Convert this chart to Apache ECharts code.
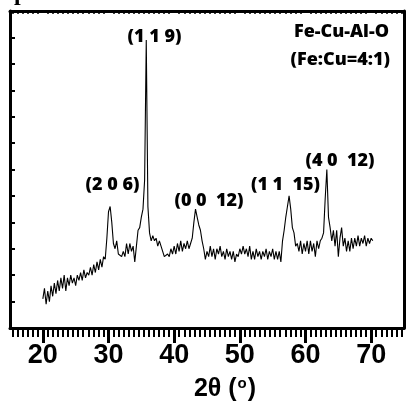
<!DOCTYPE html>
<html>
<head>
<meta charset="utf-8">
<script src="https://cdn.jsdelivr.net/npm/echarts@6/dist/echarts.min.js"></script>
<style>
html,body{margin:0;padding:0;background:#fff;}
#chart{width:406px;height:402px;}
</style>
</head>
<body>
<div id="chart"></div>
<script>
// ---- data ----
var twoTheta = [
20.00,20.25,20.50,20.75,21.00,21.25,21.50,21.75,22.00,22.25,22.50,22.75,
23.00,23.25,23.50,23.75,24.00,24.25,24.50,24.75,25.00,25.25,25.50,25.75,
26.00,26.25,26.50,26.75,27.00,27.25,27.50,27.75,28.00,28.25,28.50,28.75,
29.00,29.25,29.50,29.75,30.00,30.25,30.50,30.75,31.00,31.25,31.50,31.75,
32.00,32.25,32.50,32.75,33.00,33.25,33.50,33.75,34.00,34.25,34.50,34.75,
35.00,35.25,35.50,35.75,36.00,36.25,36.50,36.75,37.00,37.25,37.50,37.75,
38.00,38.25,38.50,38.75,39.00,39.25,39.50,39.75,40.00,40.25,40.50,40.75,
41.00,41.25,41.50,41.75,42.00,42.25,42.50,42.75,43.00,43.25,43.50,43.75,
44.00,44.25,44.50,44.75,45.00,45.25,45.50,45.75,46.00,46.25,46.50,46.75,
47.00,47.25,47.50,47.75,48.00,48.25,48.50,48.75,49.00,49.25,49.50,49.75,
50.00,50.25,50.50,50.75,51.00,51.25,51.50,51.75,52.00,52.25,52.50,52.75,
53.00,53.25,53.50,53.75,54.00,54.25,54.50,54.75,55.00,55.25,55.50,55.75,
56.00,56.25,56.50,56.75,57.00,57.25,57.50,57.75,58.00,58.25,58.50,58.75,
59.00,59.25,59.50,59.75,60.00,60.25,60.50,60.75,61.00,61.25,61.50,61.75,
62.00,62.25,62.50,62.75,63.00,63.25,63.50,63.75,64.00,64.25,64.50,64.75,
65.00,65.25,65.50,65.75,66.00,66.25,66.50,66.75,67.00,67.25,67.50,67.75,
68.00,68.25,68.50,68.75,69.00,69.25,69.50,69.75,70.00,70.25
];
var intensity = [
1.1,1.5,0.9,1.4,1.0,1.6,1.2,1.7,1.3,1.8,1.4,1.9,
1.5,2.0,1.4,1.9,1.6,2.0,1.7,1.9,1.6,2.0,1.8,2.1,
1.8,2.2,1.9,2.1,2.0,2.3,2.0,2.4,2.1,2.5,2.2,2.6,
2.3,2.7,2.6,3.4,4.4,4.6,4.0,3.2,3.0,3.3,2.8,2.8,
2.7,2.9,2.7,3.2,2.8,3.2,2.9,3.1,2.5,3.1,3.7,3.8,
4.2,4.5,5.6,10.9,4.6,3.6,3.3,3.5,3.3,3.4,3.1,3.3,
3.1,2.9,2.7,2.7,2.8,2.7,3.0,2.8,3.1,2.8,3.2,2.9,
3.3,2.9,3.2,3.0,3.3,3.0,3.2,3.4,4.0,4.5,4.2,3.9,
3.7,3.3,3.0,2.6,2.9,2.7,3.1,2.7,3.0,2.6,3.0,2.8,
3.1,2.7,2.9,2.6,3.0,2.7,2.9,2.6,2.9,2.5,2.8,2.7,
3.0,2.8,3.1,2.8,3.0,2.7,3.1,2.6,2.9,2.6,3.0,2.7,
2.9,2.6,2.9,2.7,3.0,2.6,2.9,2.7,3.0,2.6,2.9,2.6,
2.9,2.5,3.3,3.7,4.2,4.6,5.0,4.5,3.8,3.6,3.1,3.2,
2.9,3.3,2.8,3.2,2.9,3.3,2.8,3.3,2.9,3.2,2.7,3.3,
3.0,3.3,3.4,3.6,4.9,6.0,4.2,3.8,3.3,3.7,3.1,3.7,
2.7,3.4,3.8,3.1,3.4,2.9,3.3,2.9,3.4,3.0,3.4,3.1,
3.5,3.1,3.4,3.2,3.5,3.1,3.4,3.2,3.4,3.3
];
var majorTicks = [20, 30, 40, 50, 60, 70];
var peakLabels = ['(1 1 9)', '(2 0 6)', '(0 0  12)', '(1 1  15)', '(4 0  12)'];
var sampleLines = ['Fe-Cu-Al-O', '(Fe:Cu=4:1)'];

// ---- build ----
var seriesData = twoTheta.map(function (x, i) { return [x, intensity[i]]; });

// minor tick positions (styling only): 13 sub-divisions per 10 degrees
var minorTicks = [];
for (var d = 10; d <= 70; d += 10) {
  for (var k = 1; k < 13; k++) {
    var v = d + k * 10 / 13;
    if (v > 15 && v < 75) minorTicks.push(v);
  }
}

var chart = echarts.init(document.getElementById('chart'), null, { renderer: 'canvas' });
var black = '#000';
var labelFont = { fontFamily: 'Open Sans', fontWeight: 800, fontSize: 18, fill: black };

function txt(x, y, s, align) {
  return {
    type: 'text', x: x, y: y, z: 10,
    style: Object.assign({ text: s, align: align || 'center', verticalAlign: 'middle' }, labelFont)
  };
}

var option = {
  animation: false,
  backgroundColor: '#fff',
  grid: { left: 10, right: 2, top: 11, bottom: 74, containLabel: false },
  xAxis: [
    {
      type: 'value', min: 15, max: 75, position: 'bottom',
      axisLine: { show: true, onZero: false, lineStyle: { color: black, width: 3 } },
      axisTick: { show: true, customValues: majorTicks, length: 15, lineStyle: { color: black, width: 3 } },
      axisLabel: {
        show: true, customValues: majorTicks, margin: 14,
        fontFamily: 'Liberation Sans Narrow, Liberation Sans, Arial', fontWeight: 'bold', fontSize: 27, color: black
      },
      splitLine: { show: false }
    },
    {
      type: 'value', min: 15, max: 75, position: 'bottom',
      axisLine: { show: false, onZero: false },
      axisTick: { show: true, customValues: minorTicks, length: 9, lineStyle: { color: black, width: 2 } },
      axisLabel: { show: false },
      splitLine: { show: false }
    },
    {
      type: 'value', min: 15, max: 75, position: 'top',
      axisLine: { show: true, onZero: false, lineStyle: { color: black, width: 3 } },
      axisTick: { show: true, inside: true, customValues: minorTicks, length: 3, lineStyle: { color: black, width: 1.5 } },
      axisLabel: { show: false },
      splitLine: { show: false }
    }
  ],
  yAxis: [
    {
      type: 'value', min: 0, max: 12, interval: 1, position: 'left',
      axisLine: { show: true, onZero: false, lineStyle: { color: black, width: 3 } },
      axisTick: { show: true, inside: true, length: 5, lineStyle: { color: black, width: 2 } },
      axisLabel: { show: false },
      splitLine: { show: false }
    },
    {
      type: 'value', min: 0, max: 12, position: 'right',
      axisLine: { show: true, onZero: false, lineStyle: { color: black, width: 3 } },
      axisTick: { show: false },
      axisLabel: { show: false },
      splitLine: { show: false }
    }
  ],
  series: [
    {
      type: 'line', xAxisIndex: 0, yAxisIndex: 0,
      data: seriesData,
      showSymbol: false, symbol: 'none',
      lineStyle: { color: black, width: 1.1 },
      z: 3
    }
  ],
  graphic: [
    txt(154.5, 37, peakLabels[0]),
    txt(112.5, 185, peakLabels[1]),
    txt(209, 201, peakLabels[2]),
    txt(285.5, 185, peakLabels[3]),
    txt(340, 161, peakLabels[4]),
    txt(389, 32, sampleLines[0], 'right'),
    txt(390, 60, sampleLines[1], 'right'),
    {
      type: 'text', x: 225, y: 389, z: 10,
      style: {
        text: '{m|2θ (}{s|o}{m|)}',
        align: 'center', verticalAlign: 'middle',
        rich: {
          m: { fontFamily: 'Liberation Sans, Arial', fontWeight: 'bold', fontSize: 25, fill: black },
          s: { fontFamily: 'Liberation Sans, Arial', fontWeight: 'bold', fontSize: 15, fill: black, verticalAlign: 'top', padding: [0, 1, 10, 1] }
        }
      }
    },
    {
      type: 'text', x: 14, y: 6, z: 1,
      style: { text: 'p', fontFamily: 'Liberation Serif, serif', fontWeight: 'bold', fontSize: 24, fill: black, align: 'left', verticalAlign: 'bottom' }
    }
  ]
};
chart.setOption(option);
</script>
</body>
</html>
